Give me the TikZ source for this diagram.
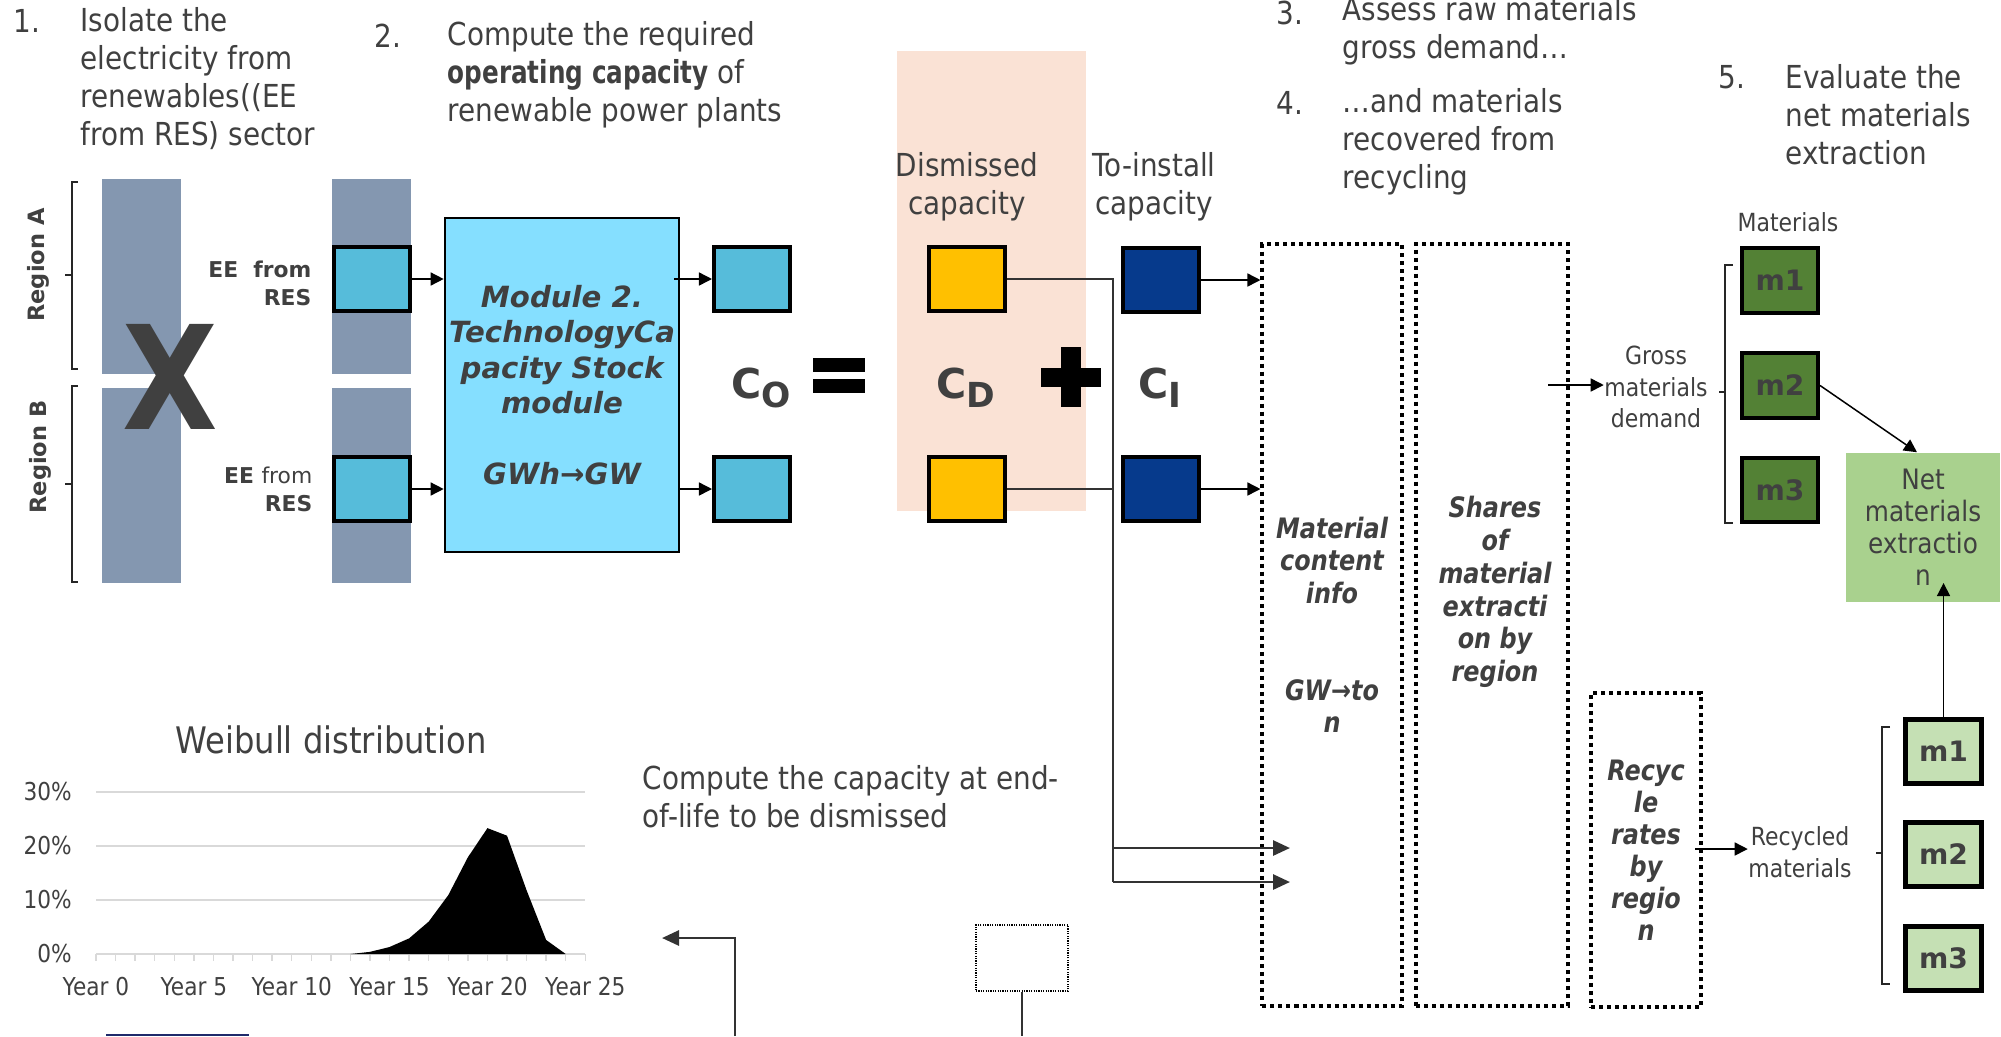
\documentclass[tikz,border=0pt]{standalone}
\usepackage{fontspec}
\usetikzlibrary{arrows.meta}
\newfontfamily\nar{DejaVu Sans}[FakeStretch=0.88]
\newfontfamily\narb{DejaVu Sans}[FakeStretch=0.78]
\newfontfamily\wid{DejaVu Sans}
\newfontfamily\bit{DejaVu Sans}[FakeStretch=0.85]
\newcommand{\myfs}[2]{\fontsize{#1}{#2}\selectfont}
\definecolor{tgray}{HTML}{404040}
\definecolor{barc}{HTML}{8497B0}
\definecolor{cyanb}{HTML}{56BCDA}
\definecolor{modc}{HTML}{85DFFF}
\definecolor{peach}{HTML}{FAE2D5}
\definecolor{yel}{HTML}{FFC000}
\definecolor{navyb}{HTML}{063A8C}
\definecolor{dgreen}{HTML}{538135}
\definecolor{lgreen}{HTML}{A9D18E}
\definecolor{pgreen}{HTML}{C5E0B4}
\definecolor{gridc}{HTML}{D9D9D9}
\definecolor{lnk}{HTML}{333333}
\definecolor{navyl}{HTML}{1F2A6B}
\tikzset{
  mtxt/.style={text=tgray, inner sep=0pt, font=\nar\myfs{9}{10.8}, align=left},
  stxt/.style={text=tgray, inner sep=0pt, font=\nar\myfs{7.1}{9}, align=center},
  btxt/.style={text=tgray, inner sep=0pt, font=\wid\bfseries\myfs{6.2}{8}},
  sqbox/.style={draw=black, line width=0.04cm, minimum width=0.76cm, minimum height=0.64cm, inner sep=0pt},
  mlabel/.style={sqbox, text=tgray, font=\wid\bfseries\myfs{8}{9}},
  dotbox/.style={draw=black, line width=0.04cm, dash pattern=on 0.04cm off 0.04cm, inner sep=0pt,
     text=tgray, font=\bit\bfseries\itshape\myfs{8}{9.2}, align=center},
  arr/.style={draw=black, line width=0.015cm, -{Triangle[length=0.13cm,width=0.13cm]}},
  thinln/.style={draw=lnk, line width=0.015cm},
  thkarr/.style={draw=lnk, line width=0.028cm, -{Triangle[length=0.17cm,width=0.15cm]}},
  brk/.style={draw=black!85, line width=0.012cm},
  cbig/.style={text=tgray, inner sep=0pt, font=\wid\bfseries\myfs{11.7}{12}},
}
\begin{document}
\begin{tikzpicture}[x=0.01cm,y=-0.01cm]
\useasboundingbox (0,0) rectangle (2001,1036);

% backgrounds
\fill[peach] (897,51) rectangle (1086,511);
\fill[barc] (102,179) rectangle (181,374);
\fill[barc] (102,388) rectangle (181,583);
\fill[barc] (332,179) rectangle (411,374);
\fill[barc] (332,388) rectangle (411,583);

% headings
\node[mtxt, anchor=west] (n1) at (13,21) {1.};
\node[mtxt, anchor=west] (h1) at (80,79) {Isolate the\\electricity from\\renewables((EE\\from RES) sector};
\node[mtxt, anchor=west] (n2) at (374,36) {2.};
\node[mtxt, anchor=west] (h2) at (447,74.5) {Compute the required\\{\narb\bfseries operating capacity} of\\renewable power plants};
\node[mtxt, anchor=west] (n3) at (1276,13) {3.};
\node[mtxt, anchor=west] (h3) at (1342,31) {Assess raw materials\\gross demand…};
\node[mtxt, anchor=west] (n4) at (1276,103) {4.};
\node[mtxt, anchor=west] (h4) at (1342,142) {…and materials\\recovered from\\recycling};
\node[mtxt, anchor=west] (n5) at (1718,77) {5.};
\node[mtxt, anchor=west] (h5) at (1785,115) {Evaluate the\\net materials\\extraction};

% region labels and braces
\node[btxt, rotate=90, font=\wid\bfseries\myfs{6.4}{8}] (ra) at (38,265) {Region A};
\node[btxt, rotate=90, font=\wid\bfseries\myfs{6.4}{8}] (rb) at (40,457) {Region B};
\draw[brk] (78,182) -- (72,182) -- (72,369) -- (78,369);
\draw[brk] (72,275) -- (65,275);
\draw[brk] (78,386) -- (72,386) -- (72,582) -- (78,582);
\draw[brk] (72,484) -- (65,484);

% X
\node[text=tgray, inner sep=0pt, font=\wid\bfseries\myfs{41}{41}, xscale=0.86] (xx) at (170,377) {X};

% EE labels and boxes
\node[btxt, anchor=east, align=right] (ee1l) at (312,283) {EE\ \ from\\RES};
\node[btxt, anchor=east, align=right] (ee2l) at (313,489) {EE {\mdseries from}\\RES};
\node[sqbox, fill=cyanb] (ee1) at (372,279) {};
\node[sqbox, fill=cyanb] (ee2) at (372,489) {};

% module
\node[draw=black, line width=0.025cm, fill=modc, minimum width=2.34cm, minimum height=3.34cm,
  inner sep=0pt, text=tgray, font=\wid\bfseries\itshape\myfs{8.3}{10.1}, align=center] (mod) at (562,385)
  {Module 2.\\TechnologyCa\\pacity Stock\\module\\[10.1pt]GWh→GW};
\draw[arr] (ee1.east) -- (ee1.east -| mod.west);
\draw[arr] (ee2.east) -- (ee2.east -| mod.west);

\node[sqbox, fill=cyanb] (o1) at (752,279) {};
\node[sqbox, fill=cyanb] (o2) at (752,489) {};
\draw[arr] ([xshift=-0.06cm]mod.east |- o1) -- (o1.west);
\draw[arr] (mod.east |- o2) -- (o2.west);

% equation
\node[cbig] (co) at (761,388) {C\raisebox{-2.6pt}{\myfs{9.8}{9.8}O}};
\fill (813,358) rectangle (865,372);
\fill (813,379) rectangle (865,393);
\node[cbig] (cd) at (966,388) {C\raisebox{-2.6pt}{\myfs{9.8}{9.8}D}};
\fill (1041,368) rectangle (1101,387);
\fill (1061,347) rectangle (1081,407);
\node[cbig] (ci) at (1160,388) {C\raisebox{-2.6pt}{\myfs{9.8}{9.8}I}};

% capacities
\node[mtxt, align=center] (dism) at (967,187) {Dismissed\\capacity};
\node[mtxt, align=center] (toin) at (1154,187) {To-install\\capacity};
\node[sqbox, fill=yel] (y1) at (967,279) {};
\node[sqbox, fill=yel] (y2) at (967,489) {};
\node[sqbox, fill=navyb] (b1) at (1161,280) {};
\node[sqbox, fill=navyb] (b2) at (1161,489) {};

% dotted boxes
\node[dotbox, minimum width=1.39cm, minimum height=7.62cm] (mat) at (1332,625)
  {Material\\content\\info\\[18.4pt]GW→to\\n};
\node[dotbox, minimum width=1.52cm, minimum height=7.62cm] (shr) at (1492,625) {};
\node[text=tgray, inner sep=0pt, font=\bit\bfseries\itshape\myfs{8}{9.3}, align=center] (shrt) at (1495,592)
  {Shares\\of\\material\\extracti\\on by\\region};
\node[dotbox, minimum width=1.10cm, minimum height=3.14cm, font=\bit\bfseries\itshape\myfs{8}{9.1}] (rec) at (1646,850)
  {Recyc\\le\\rates\\by\\regio\\n};

\draw[arr] (b1.east) -- (b1.east -| mat.west);
\draw[arr] (b2.east) -- (b2.east -| mat.west);

% links from dismissed capacity
\coordinate (jA) at (1113,848);
\coordinate (jB) at (1113,882);
\coordinate (tA) at (1290,848);
\coordinate (tB) at (1290,882);
\draw[thinln] (y1.east) -| (jB);
\draw[thinln] (y2.east) -- (y2.east -| jA);
\draw[thkarr] (jA) -- (tA);
\draw[thkarr] (jB) -- (tB);

% gross materials
\node[stxt] (gross) at (1656,387) {Gross\\materials\\demand};
\coordinate (gs) at (1548,385);
\draw[arr] (gs) -- (gross.west |- gs);
\node[stxt] (matl) at (1788,222) {Materials};
\draw[brk] (1733,265) -- (1725,265) -- (1725,523) -- (1733,523);
\draw[brk] (1725,392) -- (1719,392);
\node[mlabel, fill=dgreen] (m1) at (1780,280.5) {m1};
\node[mlabel, fill=dgreen] (m2) at (1780,385.5) {m2};
\node[mlabel, fill=dgreen] (m3) at (1780,490) {m3};

% net
\node[fill=lgreen, minimum width=1.54cm, minimum height=1.49cm, inner sep=0pt, text=tgray,
  font=\nar\myfs{8}{9.1}, align=center] (net) at (1923,527.5) {Net\\materials\\extractio\\n};
\draw[arr] (m2.east) -- ([xshift=-0.06cm]net.north);

% recycled
\node[stxt] (rtxt) at (1800,852) {Recycled\\materials};
\coordinate (rs) at (1695,849);
\draw[arr] (rs) -- (rtxt.west |- rs);
\draw[brk] (1890,727) -- (1882,727) -- (1882,984) -- (1890,984);
\draw[brk] (1882,853) -- (1876,853);
\node[mlabel, fill=pgreen, line width=0.05cm] (l1) at (1943.5,751.5) {m1};
\node[mlabel, fill=pgreen, line width=0.05cm] (l2) at (1943.5,854) {m2};
\node[mlabel, fill=pgreen, line width=0.05cm] (l3) at (1943.5,958.5) {m3};
\coordinate (nt) at (1943.5,583);
\draw[arr] (l1.north) -- (nt);

% Weibull chart
\node[text=tgray, inner sep=0pt, font=\nar\myfs{10.4}{12}] (wt) at (331,740) {Weibull distribution};
\begin{scope}[shift={(96,954)}, x=0.1956cm, y=0.054cm]
  \foreach \p in {10,20,30} \draw[gridc, line width=0.02cm] (0,\p) -- (25,\p);
  \draw[gridc, line width=0.02cm] (0,0) -- (25,0);
  \foreach \i in {0,...,25} \draw[gridc, line width=0.015cm] (\i,0) -- (\i,-1.3);
  \foreach \p in {0,10,20,30} \node[text=tgray, inner sep=0pt, anchor=east, font=\nar\myfs{7}{8}] (yl\p) at (-1.2,\p) {\p\%};
  \foreach \i in {0,5,...,25} \node[text=tgray, inner sep=0pt, font=\nar\myfs{7}{8}] (xl\i) at (\i,-6.1) {Year \i};
  \fill[black] (13,0) -- (14,0.4) -- (15,1.3) -- (16,2.9) -- (17,6) -- (18,10.9) -- (19,17.9)
     -- (20,23.3) -- (21,21.9) -- (22,11.8) -- (23,2.6) -- (24,0) -- cycle;
\end{scope}

\node[mtxt, anchor=west] (eol) at (642,797) {Compute the capacity at end-\\of-life to be dismissed};

% bottom connectors
\coordinate (bl) at (735,1036);
\coordinate (blt) at (662,938);
\draw[thkarr] (bl) |- (blt);
\node[draw=black, line width=0.015cm, dash pattern=on 0.012cm off 0.012cm, minimum width=0.92cm, minimum height=0.66cm, inner sep=0pt] (sm) at (1022,958) {};
\coordinate (smb) at (1022,1036);
\draw[thinln] (sm.south) -- (smb);
\draw[navyl, line width=0.025cm] (106,1035) -- (249,1035);
\end{tikzpicture}
\end{document}
